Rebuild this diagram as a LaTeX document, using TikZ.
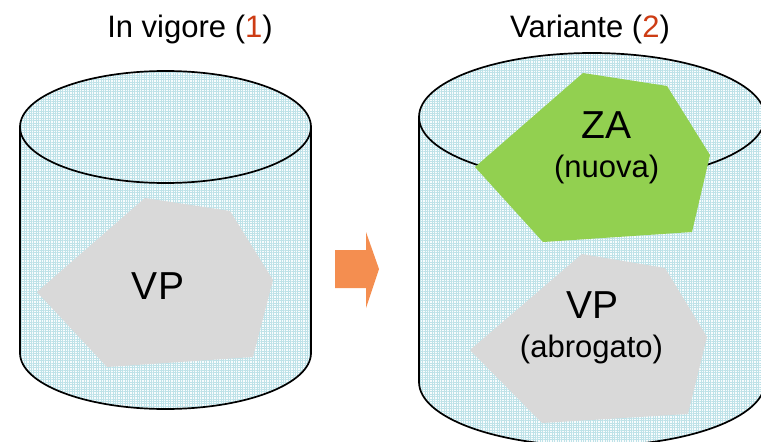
\documentclass[tikz,border=0pt]{standalone}
\usepackage{fontspec}
\setmainfont{Liberation Sans}
\usetikzlibrary{patterns.meta}
\definecolor{gridc}{RGB}{190,226,232}
\definecolor{basec}{RGB}{248,252,253}
\definecolor{zagreen}{RGB}{146,208,80}
\definecolor{vpgray}{RGB}{217,217,217}
\definecolor{arrowc}{RGB}{244,142,80}
\definecolor{numred}{RGB}{205,60,20}
\tikzset{
  cylline/.style={line width=1.7pt, black},
  title/.style={anchor=base, inner sep=0pt, font=\fontsize{31}{36}\selectfont},
  big/.style={anchor=base, inner sep=0pt, font=\fontsize{39}{44}\selectfont},
  small/.style={anchor=base, inner sep=0pt, font=\fontsize{31}{36}\selectfont},
  gridfill/.style={pattern={Hatch[angle=0,distance=2.4pt,line width=0.5pt]}, pattern color=gridc},
}
\newcommand{\mycyl}[5]{% cx, rx, topy, ry, boty
  \fill[basec] (#1-#2,#3) arc[start angle=180,end angle=360,x radius=#2,y radius=#4] -- (#1+#2,#5) arc[start angle=0,end angle=180,x radius=#2,y radius=#4] -- cycle;
  \fill[gridfill] (#1-#2,#3) arc[start angle=180,end angle=360,x radius=#2,y radius=#4] -- (#1+#2,#5) arc[start angle=0,end angle=180,x radius=#2,y radius=#4] -- cycle;
  \draw[cylline] (#1-#2,#3) -- (#1-#2,#5) arc[start angle=180,end angle=0,x radius=#2,y radius=#4] -- (#1+#2,#3);
  \draw[cylline] (#1,#3) ellipse[x radius=#2,y radius=#4];
}
\begin{document}
\begin{tikzpicture}[x=1pt,y=-1pt]
\useasboundingbox (0,0) rectangle (761,442);
\begin{scope}
\clip (0,0) rectangle (761,442);
% left cylinder
\mycyl{165.5}{145.5}{127}{56}{353}
% right cylinder
\mycyl{592}{173}{117}{64}{382}
\end{scope}
% left VP polygon
\fill[vpgray] (37,292) -- (145,198) -- (230,211) -- (273,280) -- (253,357) -- (107,367) -- cycle;
% green ZA
\fill[zagreen] (475,167) -- (583,73) -- (667,86) -- (710,155) -- (692,232) -- (543,242) -- cycle;
% right VP polygon
\fill[vpgray] (470,350) -- (582,254) -- (665,268) -- (707,337) -- (688,414) -- (542,423) -- cycle;
% arrow
\fill[arrowc] (335,250) -- (366,250) -- (366,232) -- (379,269) -- (366,308) -- (366,288) -- (335,288) -- cycle;
% texts
\node[title] (t1) at (190,37) {In vigore (\textcolor{numred}{1})};
\node[title] (t2) at (590,37) {Variante (\textcolor{numred}{2})};
\node[big] (vp1) at (158,299) {VP};
\node[big] (za) at (606.7,138) {ZA};
\node[small] (nuova) at (606.7,177) {(nuova)};
\node[big] (vp2) at (592.5,318) {VP};
\node[small] (abr) at (591.5,357) {(abrogato)};
\end{tikzpicture}
\end{document}
